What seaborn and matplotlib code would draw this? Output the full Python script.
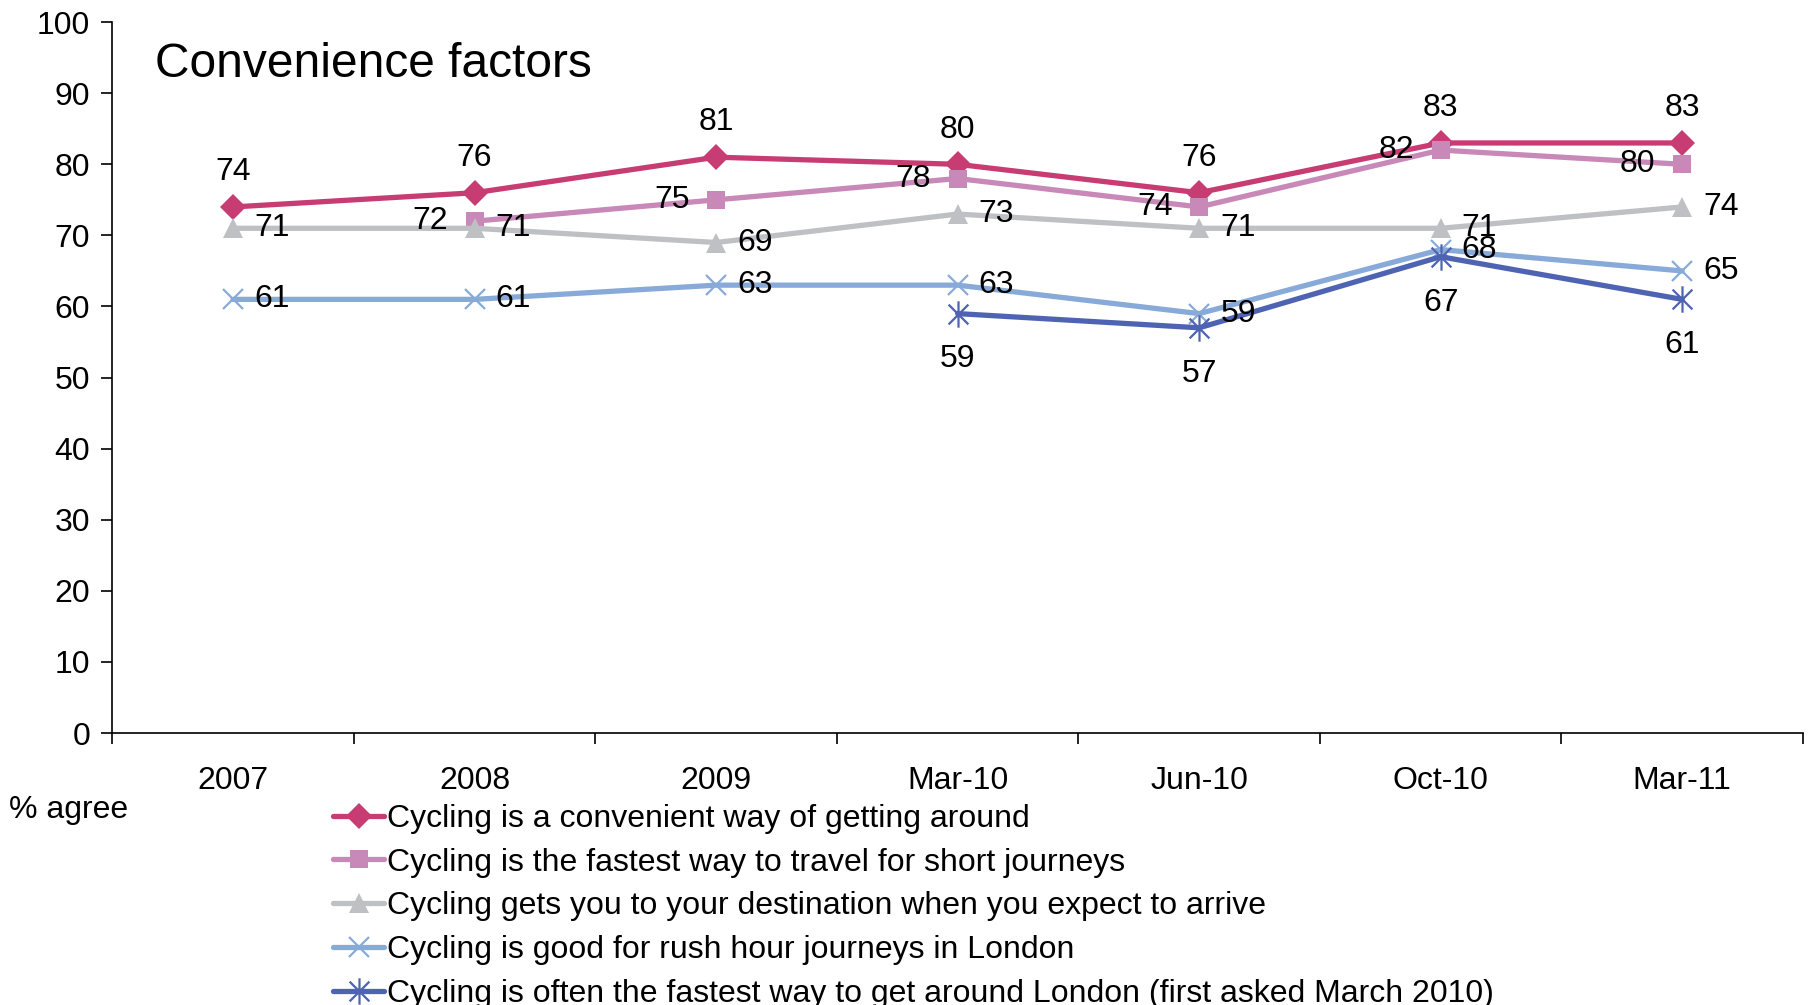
import numpy as np
import pandas as pd
import matplotlib.pyplot as plt
from matplotlib.path import Path
import seaborn as sns

periods = ["2007", "2008", "2009", "Mar-10", "Jun-10", "Oct-10", "Mar-11"]

convenient = [74, 76, 81, 80, 76, 83, 83]
fastest_short = [np.nan, 72, 75, 78, 74, 82, 80]
destination = [71, 71, 69, 73, 71, 71, 74]
rush_hour = [61, 61, 63, 63, 59, 68, 65]
fastest_london = [np.nan, np.nan, np.nan, 59, 57, 67, 61]

names = [
    "Cycling is a convenient way of getting around",
    "Cycling is the fastest way to travel for short journeys",
    "Cycling gets you to your destination when you expect to arrive",
    "Cycling is good for rush hour journeys in London",
    "Cycling is often the fastest way to get around London (first asked March 2010)",
]
series = [convenient, fastest_short, destination, rush_hour, fastest_london]
colors = ["#C83C74", "#C888B8", "#BEC0C4", "#88AAD8", "#4E64B2"]

# asterisk marker like the Excel "star"
star = Path([(0, -1), (0, 1), (-0.75, -0.75), (0.75, 0.75), (-0.75, 0.75), (0.75, -0.75)],
            [Path.MOVETO, Path.LINETO, Path.MOVETO, Path.LINETO, Path.MOVETO, Path.LINETO])
markers = ["D", "s", "^", "x", star]
msizes = [13, 13.5, 14, 14, 19]
label_pos = ["above", "left", "right", "right", "below"]

sns.set_style("white")
plt.rcParams["font.family"] = ["Liberation Sans", "DejaVu Sans"]
plt.rcParams["text.color"] = "black"
plt.rcParams["xtick.color"] = "black"
plt.rcParams["ytick.color"] = "black"

fig = plt.figure(figsize=(18.12, 10.05), dpi=100)
ax = fig.add_axes([0.062, 0.2706, 0.933, 0.7074])

FS = 23
x = np.arange(len(periods))
for vals, name, c, m, ms, pos in zip(series, names, colors, markers, msizes, label_pos):
    df = pd.DataFrame({"x": x, "y": vals}).dropna()
    lined = not isinstance(m, str) or m == "x"
    sns.lineplot(data=df, x="x", y="y", ax=ax, color=c, lw=3.8, marker=m,
                 ms=ms, mew=1.6 if lined else 0, mec=c, mfc=c, label=name)
    for xi, yi in zip(df["x"], df["y"]):
        if pos == "above":
            off = (0, 25)
        elif pos == "below":
            off = (0, -33)
        elif pos == "left":
            off = (-32, 0)
        else:
            off = (28, 0)
        ax.annotate(f"{yi:.0f}", (xi, yi), xytext=off, textcoords="offset points",
                    ha="center", va="center", fontsize=FS)

ax.set_xlim(-0.5, 6.5)
ax.set_ylim(0, 100)
ax.set_yticks(range(0, 101, 10))
ax.set_xticks(x)
ax.set_xticklabels(periods)
ax.set_xticks(np.arange(-0.5, 7, 1), minor=True)
ax.tick_params(axis="x", which="major", length=0, pad=24, labelsize=FS)
ax.tick_params(axis="x", which="minor", length=8, width=1.2, direction="out", bottom=True)
ax.tick_params(axis="y", length=8, width=1.2, direction="out", left=True, labelsize=FS, pad=8)
ax.set_xlabel("")
ax.set_ylabel("")
for s in ["top", "right"]:
    ax.spines[s].set_visible(False)
for s in ["left", "bottom"]:
    ax.spines[s].set_color("black")
    ax.spines[s].set_linewidth(1.2)

ax.text(0.025, 0.94, "Convenience factors", transform=ax.transAxes, fontsize=34.5,
        ha="left", va="center")
fig.text(0.005, 0.194, "% agree", fontsize=FS, ha="left", va="center")

handles, labels = ax.get_legend_handles_labels()
ax.legend(handles, labels, loc="upper left", bbox_to_anchor=(0.175, 0.216),
          bbox_transform=fig.transFigure, frameon=False, fontsize=FS,
          handlelength=1.6, handletextpad=0.1, labelspacing=0.43, borderpad=0)

fig.savefig("out.png", dpi=100)
